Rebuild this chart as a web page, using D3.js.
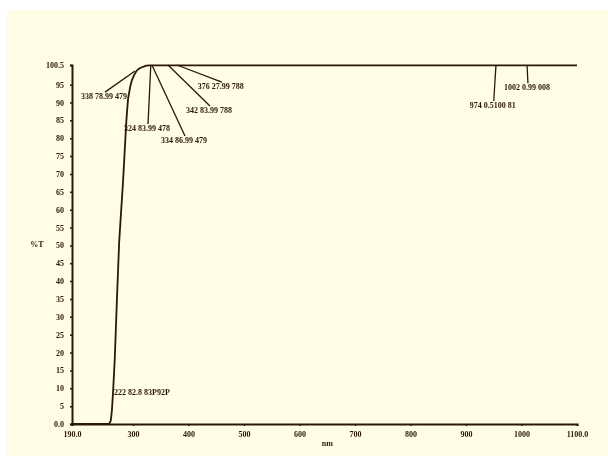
<!DOCTYPE html>
<html>
<head>
<meta charset="utf-8">
<script src="https://cdn.jsdelivr.net/npm/d3@7"></script>
<style>
  body { margin: 0; background: #fff; }
  svg { opacity: 0.999; will-change: transform; }
  text { font-family: "Liberation Serif", serif; font-weight: bold; fill: #2a1808; }
</style>
</head>
<body>
<script>
// transmission curve (wavelength nm, %T)
var wavelength = [190, 240, 257, 260, 262, 264, 267, 271, 275, 282, 288, 291, 295, 298, 303, 307, 312, 318, 324, 330, 1100];
var transT     = [0,   0,   0,   1,   4,   9,   18,  35,  51,  68,  85,  91,  94.5, 96.3, 98, 99, 99.6, 100, 100.3, 100.4, 100.4];

var xTicks = [190, 300, 400, 500, 600, 700, 800, 900, 1000, 1100];
var xTickLabels = ["190.0", "300", "400", "500", "600", "700", "800", "900", "1000", "1100.0"];
var yTicks = [0, 5, 10, 15, 20, 25, 30, 35, 40, 45, 50, 55, 60, 65, 70, 75, 80, 85, 90, 95, 100.5];

// peak labels: text, point on curve, where the leader line ends
var peakText  = ["338 78.99 479", "324 83.99 478", "334 86.99 479", "342 83.99 788", "376 27.99 788", "974 0.5100 81", "1002 0.99 008"];
var peakTipNm = [303.5, 332, 334, 363, 379, 954, 1010];
var peakTipT  = [98.8, 100.5, 100.5, 100.5, 100.5, 100.5, 100.5];
var peakAtNm  = [249.5, 327, 393.6, 438.6, 460, 950, 1011.6];
var peakAtT   = [92.9, 84, 80.6, 89, 95.7, 90.4, 95.4];

var edgeText = "222 82.8 83P92P";
var edgeNm = 264, edgeT = 9;

var W = 608, H = 462;
var margin = {top: 65, right: 31, bottom: 38, left: 72},
    width = W - margin.left - margin.right,
    height = H - margin.top - margin.bottom;
var ink = "#2a1808";

var svgRoot = d3.select("body").append("svg")
    .attr("width", W)
    .attr("height", H);

svgRoot.append("rect")
    .attr("x", 7).attr("y", 10)
    .attr("width", W - 7).attr("height", 446)
    .attr("fill", "#fffde6");

var svg = svgRoot.append("g")
    .attr("transform", "translate(" + margin.left + "," + margin.top + ")");

var x = d3.scaleLinear().domain([190, 1100]).range([0, width]);
var y = d3.scaleLinear().domain([0, 100.5]).range([height, 0]);

// axes
var xAxis = svg.append("g")
    .attr("transform", "translate(0," + height + ")")
    .call(d3.axisBottom(x).tickValues(xTicks).tickSize(2).tickPadding(5)
        .tickFormat(function(d, i) { return xTickLabels[i]; }));
var yAxis = svg.append("g")
    .call(d3.axisLeft(y).tickValues(yTicks).tickSize(2).tickPadding(6)
        .tickFormat(function(d) { return d == 0 ? "0.0" : d == 100.5 ? "100.5" : d; }));

[xAxis, yAxis].forEach(function(a) {
    a.select(".domain").attr("stroke", ink).attr("stroke-width", 2);
    a.selectAll(".tick line").attr("stroke", ink).attr("stroke-width", 1.5);
    a.selectAll(".tick text").style("font-size", "8px").attr("fill", ink)
        .style("font-family", "'Liberation Serif', serif").style("font-weight", "bold");
});

svg.append("text")
    .attr("x", -35).attr("y", y(50) + 2)
    .attr("text-anchor", "middle")
    .style("font-size", "8px")
    .text("%T");

svg.append("text")
    .attr("x", x(650)).attr("y", height + 22)
    .attr("text-anchor", "middle")
    .style("font-size", "8px")
    .text("nm");

// curve
var pts = wavelength.map(function(w, i) { return [w, transT[i]]; });
var line = d3.line()
    .x(function(d) { return x(d[0]); })
    .y(function(d) { return y(d[1]); });

svg.append("path")
    .datum(pts)
    .attr("fill", "none")
    .attr("stroke", ink)
    .attr("stroke-width", 1.8)
    .attr("stroke-linejoin", "round")
    .attr("d", line);

// peak labels
var peaks = peakText.map(function(t, i) {
    return {text: t, tw: peakTipNm[i], tt: peakTipT[i], aw: peakAtNm[i], at: peakAtT[i]};
});

svg.selectAll(".lead")
    .data(peaks)
    .enter()
    .append("line")
    .attr("class", "lead")
    .attr("x1", function(d) { return x(d.tw); })
    .attr("y1", function(d) { return y(d.tt); })
    .attr("x2", function(d) { return x(d.aw); })
    .attr("y2", function(d) { return y(d.at); })
    .attr("stroke", ink)
    .attr("stroke-width", 1.3);

svg.selectAll(".plabel")
    .data(peaks)
    .enter()
    .append("text")
    .attr("class", "plabel")
    .attr("x", function(d) { return x(d.aw) - 1; })
    .attr("y", function(d) { return y(d.at) + 7; })
    .attr("text-anchor", "middle")
    .style("font-size", "8px")
    .text(function(d) { return d.text; });

svg.append("text")
    .attr("x", x(edgeNm) + 1)
    .attr("y", y(edgeT) + 3)
    .style("font-size", "8px")
    .text(edgeText);
</script>
</body>
</html>
